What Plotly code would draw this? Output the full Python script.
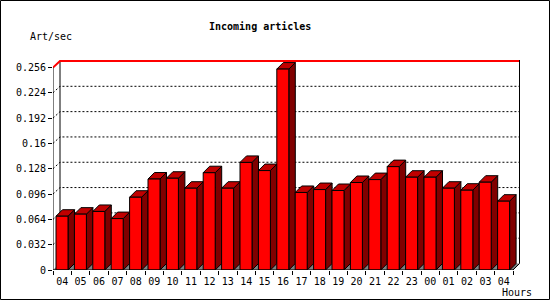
import plotly.graph_objects as go

# ---- data ----
hours = ["04", "05", "06", "07", "08", "09", "10", "11", "12", "13", "14", "15", "16",
         "17", "18", "19", "20", "21", "22", "23", "00", "01", "02", "03", "04"]
rate = [0.068, 0.0706, 0.074, 0.065, 0.092, 0.115, 0.116, 0.1034, 0.123, 0.1034, 0.136,
        0.1257, 0.254, 0.098, 0.1017, 0.1005, 0.1106, 0.1143, 0.1307, 0.1173, 0.1173,
        0.1034, 0.1009, 0.111, 0.087]
ytick_vals = [0, 0.032, 0.064, 0.096, 0.128, 0.16, 0.192, 0.224, 0.256]
ytick_text = ["0", "0.032", "0.064", "0.096", "0.128", "0.16", "0.192", "0.224", "0.256"]
title_text = "Incoming articles"
ylabel_text = "Art/sec"
xlabel_text = "Hours"

# ---- geometry ----
W, H = 550, 300
L, R, T, B = 53, 30, 60, 30
pw, ph = W - L - R, H - T - B
ncat = len(hours)
cat_px = 460.0 / ncat
ymax = ytick_vals[-1]
DYpx, DXpx = 6.5, 7.0
k = (ph - 1 - DYpx) / ymax          # px per data unit (y)
DY = DYpx / k
DX = DXpx / cat_px
x0 = -0.5
x1 = x0 + pw / cat_px
xe = ncat - 0.5
ytop = ymax + DY
FONT = "DejaVu Sans Mono"

fig = go.Figure()

def poly(pts_list):
    xs, ys = [], []
    for pts in pts_list:
        for (a, b) in pts:
            xs.append(a); ys.append(b)
        xs.append(pts[0][0]); ys.append(pts[0][1])
        xs.append(None); ys.append(None)
    return xs, ys

# floor
fx, fy = poly([[(x0, 0), (x0 + DX, DY), (xe + DX, DY), (xe, 0)]])
fig.add_trace(go.Scatter(x=fx, y=fy, fill="toself", fillcolor="#808080",
                         line=dict(color="#808080", width=0), mode="lines"))

# grid lines on back wall
gx, gy = [], []
for v in ytick_vals[1:-1]:
    gx += [x0, x0 + DX, x1, None]
    gy += [v, v + DY, v + DY, None]
fig.add_trace(go.Scatter(x=gx, y=gy, mode="lines",
                         line=dict(color="black", width=1, dash="2px,2px")))

# back wall frame
xr_edge = x1 - 0.5 / cat_px
fig.add_trace(go.Scatter(x=[x0 + DX, x0 + DX, None, xr_edge, xr_edge, xe],
                         y=[DY, ytop, None, ytop + 1.0 / k, DY, 0], mode="lines",
                         line=dict(color="black", width=1)))
fig.add_trace(go.Scatter(x=[x0 + DX, xr_edge], y=[ytop + 1.0 / k, ytop + 1.0 / k], mode="lines",
                         line=dict(color="black", width=1)))
fig.add_trace(go.Scatter(x=[x0, x0 + DX, xr_edge - 0.5 / cat_px], y=[ymax, ytop, ytop], mode="lines",
                         line=dict(color="#ff0000", width=2)))

# bars
bw = 12.0 / cat_px
bdx = 6.5 / cat_px
sides, tops, fronts = [], [], []
for i, v in enumerate(rate):
    xl = i - 0.5 + 3.0 / cat_px
    xr = xl + bw
    sides.append([(xr, 0), (xr + bdx, DY), (xr + bdx, v + DY), (xr, v)])
    tops.append([(xl, v), (xr, v), (xr + bdx, v + DY), (xl + bdx, v + DY)])
    fronts.append([(xl, 0), (xr, 0), (xr, v), (xl, v)])

for pts, col in ((sides, "#800000"), (tops, "#c00000"), (fronts, "#ff0000")):
    px_, py_ = poly(pts)
    fig.add_trace(go.Scatter(x=px_, y=py_, fill="toself", fillcolor=col, mode="lines",
                             line=dict(color="black", width=1)))

# front axes
fig.add_trace(go.Scatter(x=[x0, x0, xe], y=[ymax, 0, 0], mode="lines",
                         line=dict(color="black", width=1)))

fig.update_traces(hoverinfo="skip", showlegend=False)

fig.update_layout(
    width=W, height=H,
    margin=dict(l=L, r=R, t=T, b=B, pad=0),
    paper_bgcolor="white", plot_bgcolor="white",
    showlegend=False,
    xaxis=dict(range=[x0, x1], tickmode="array", tickvals=list(range(ncat)), ticktext=hours,
               ticks="", showgrid=False, zeroline=False, showline=False,
               ticklabelstandoff=4,
               tickfont=dict(family=FONT, size=10, color="black"),
               minor=dict(tickmode="array", tickvals=[j - 0.5 for j in range(ncat + 1)],
                          ticks="outside", ticklen=4, tickcolor="black", showgrid=False),
               fixedrange=True),
    yaxis=dict(range=[0, ytop + 1.0 / k], tickmode="array", tickvals=ytick_vals,
               ticktext=ytick_text, ticks="outside", ticklen=4, tickcolor="black",
               showgrid=False, zeroline=False, showline=False,
               tickfont=dict(family=FONT, size=10, color="black"), fixedrange=True),
    font=dict(family=FONT, color="black"),
)

def px2paper(xp, yp):
    return (xp - L) / pw, (H - B - yp) / ph

ax, ay = px2paper(260, 27)
fig.add_annotation(x=ax, y=ay, xref="paper", yref="paper", text="<b>" + title_text + "</b>",
                   showarrow=False, xanchor="center", yanchor="middle",
                   font=dict(family=FONT, size=10, color="black"))
ax, ay = px2paper(28, 37)
fig.add_annotation(x=ax, y=ay, xref="paper", yref="paper", text=ylabel_text,
                   showarrow=False, xanchor="left", yanchor="middle",
                   font=dict(family=FONT, size=10, color="black"))
ax, ay = px2paper(534, 292)
fig.add_annotation(x=ax, y=ay, xref="paper", yref="paper", text=xlabel_text,
                   showarrow=False, xanchor="right", yanchor="middle",
                   font=dict(family=FONT, size=10, color="black"))

# image border
bx0, by0 = px2paper(0.5, H - 0.5)
bx1, by1 = px2paper(W - 0.5, 0.5)
fig.add_shape(type="rect", xref="paper", yref="paper", x0=bx0, y0=by0, x1=bx1, y1=by1,
              line=dict(color="black", width=1), fillcolor="rgba(0,0,0,0)", layer="above")

fig.write_html("out.html")
